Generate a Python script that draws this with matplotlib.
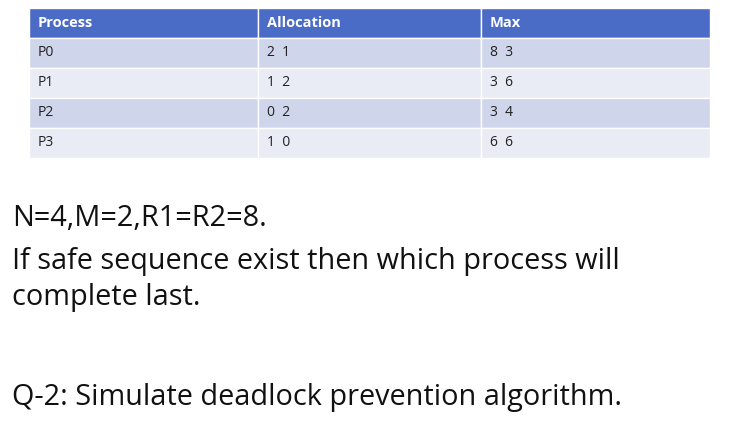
import matplotlib
matplotlib.use("Agg")
import matplotlib.pyplot as plt
from matplotlib.patches import Rectangle

headers = ["Process", "Allocation", "Max"]
processes = ["P0", "P1", "P2", "P3"]
allocation = ["2  1", "1  2", "0  2", "1  0"]
maximum = ["8  3", "3  6", "3  4", "6  6"]
notes = ["N=4,M=2,R1=R2=8.",
         "If safe sequence exist then which process will",
         "complete last."]
question = "Q-2: Simulate deadlock prevention algorithm."

plt.rcParams['font.family'] = ['Open Sans', 'DejaVu Sans']

fig = plt.figure(figsize=(7.39, 4.23), dpi=100)
ax = fig.add_axes([0, 0, 1, 1])
ax.set_xlim(0, 739)
ax.set_ylim(423, 0)
ax.axis('off')

col_x = [29, 258, 481, 710]
top, row_h = 8, 30
rows = [processes, allocation, maximum]

# header
for i, h in enumerate(headers):
    ax.add_patch(Rectangle((col_x[i], top), col_x[i + 1] - col_x[i], row_h,
                           facecolor='#4a6bc6', edgecolor='white', lw=1))
    ax.text(col_x[i] + 9, top + row_h / 2, h, color='white', fontsize=10.5,
            fontweight='bold', va='center')

for r in range(len(processes)):
    y = top + row_h * (r + 1)
    fc = '#cfd5ea' if r % 2 == 0 else '#e9ebf5'
    for i in range(3):
        ax.add_patch(Rectangle((col_x[i], y), col_x[i + 1] - col_x[i], row_h,
                               facecolor=fc, edgecolor='white', lw=1))
        ax.text(col_x[i] + 9, y + row_h / 2, rows[i][r], color='#222222',
                fontsize=10, va='center')

for y, line in zip([218, 261, 298], notes):
    ax.text(12, y, line, fontsize=20.8, va='center', color='#111111')
ax.text(12, 398, question, fontsize=20.8, va='center', color='#111111')

fig.savefig("out.png", dpi=100)
